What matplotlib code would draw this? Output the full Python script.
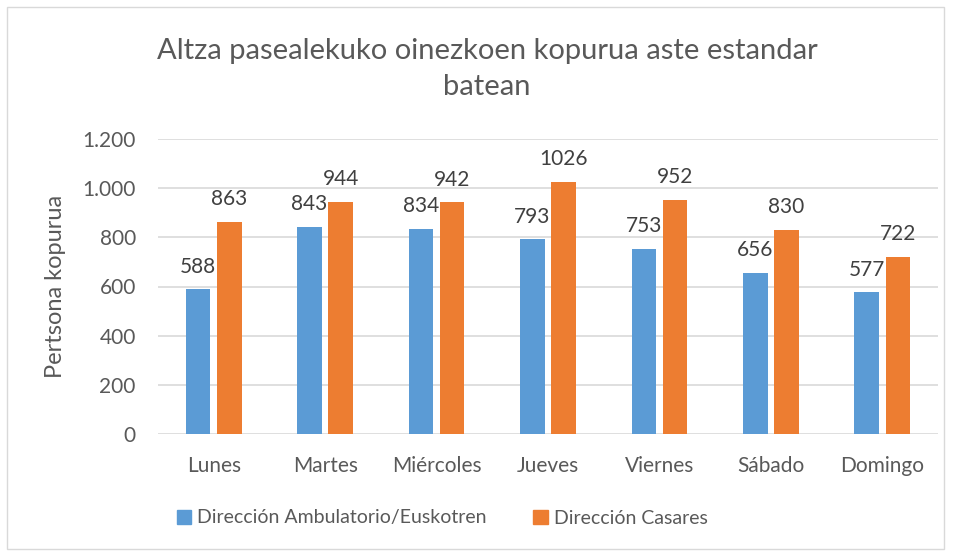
import matplotlib.pyplot as plt
import numpy as np
from matplotlib.patches import Rectangle, Patch

days = ["Lunes", "Martes", "Miércoles", "Jueves", "Viernes", "Sábado", "Domingo"]
ambulatorio = [588, 843, 834, 793, 753, 656, 577]
casares = [863, 944, 942, 1026, 952, 830, 722]
series_names = ["Dirección Ambulatorio/Euskotren", "Dirección Casares"]
yticks = [0, 200, 400, 600, 800, 1000, 1200]
ytick_labels = ["0", "200", "400", "600", "800", "1.000", "1.200"]

blue = "#5B9BD5"
orange = "#ED7D31"
txt = "#595959"

plt.rcParams['font.family'] = ['Lato', 'DejaVu Sans']

fig = plt.figure(figsize=(9.56, 5.51), dpi=100)
fig.patches.append(Rectangle((7 / 956, 2 / 551), 937 / 956, 542 / 551,
                             transform=fig.transFigure, fill=False,
                             edgecolor="#D9D9D9", linewidth=1))

ax = fig.add_axes([158 / 956, 117 / 551, 780 / 956, 295 / 551])
x = np.arange(len(days))
w = 0.22
off = 0.14
b1 = ax.bar(x - off, ambulatorio, w, color=blue, zorder=3)
b2 = ax.bar(x + off, casares, w, color=orange, zorder=3)

for bars, vals in ((b1, ambulatorio), (b2, casares)):
    for bar, v in zip(bars, vals):
        ax.annotate(str(v), (bar.get_x() + bar.get_width() / 2, v),
                    xytext=(0, 9), textcoords="offset points",
                    ha="center", va="bottom", fontsize=15, color="#404040")

ax.set_xlim(-0.5, len(days) - 0.5)
ax.set_ylim(0, 1200)
ax.set_yticks(yticks)
ax.set_yticklabels(ytick_labels)
ax.set_xticks(x)
ax.set_xticklabels(days)
ax.tick_params(axis="both", length=0, labelsize=15, colors=txt)
ax.tick_params(axis="y", pad=16)
ax.tick_params(axis="x", pad=16)
ax.yaxis.grid(True, color="#D9D9D9", linewidth=1.2, zorder=0)
for s in ax.spines.values():
    s.set_visible(False)
ax.set_ylabel("Pertsona kopurua", fontsize=17, color=txt, labelpad=12)

fig.text(487 / 956, 1 - 69 / 551,
         "Altza pasealekuko oinezkoen kopurua aste estandar\nbatean",
         ha="center", va="center", fontsize=21, color=txt, linespacing=1.5)

handles = [Patch(color=blue), Patch(color=orange)]
fig.legend(handles, series_names, loc="center", bbox_to_anchor=(442 / 956, 1 - 518 / 551),
           ncol=2, frameon=False, fontsize=14, labelcolor=txt,
           handlelength=0.75, handleheight=0.75, handletextpad=0.3, columnspacing=2.4)

fig.savefig("out.png", dpi=100)
